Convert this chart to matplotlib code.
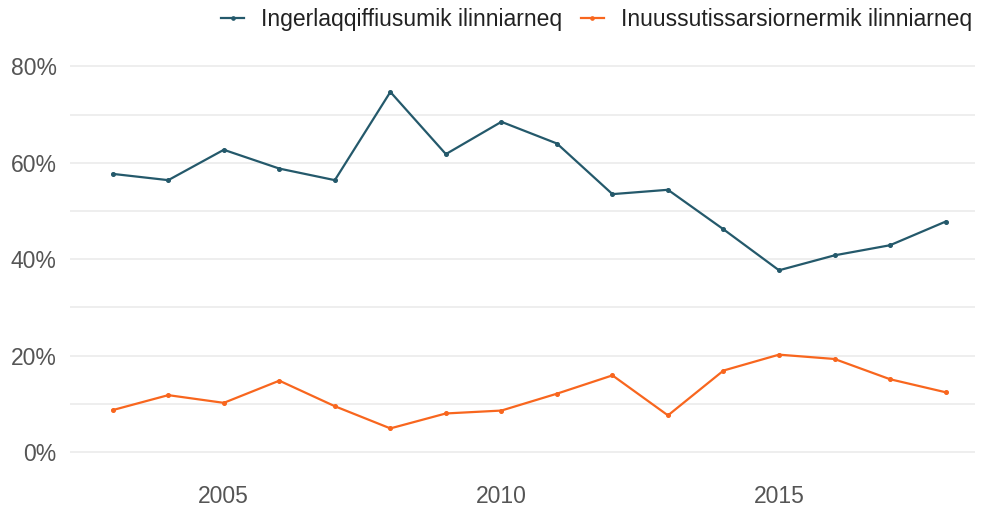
import matplotlib.pyplot as plt
from matplotlib.ticker import FuncFormatter, MultipleLocator

years = list(range(2003, 2019))
ingerlaqqiffiusumik = [57.7, 56.4, 62.7, 58.8, 56.4, 74.7, 61.8, 68.5, 64.0, 53.5,
                       54.4, 46.2, 37.7, 40.8, 42.9, 47.8]
inuussutissarsiornermik = [8.7, 11.8, 10.2, 14.8, 9.5, 4.9, 8.0, 8.6, 12.1, 15.9,
                           7.6, 16.9, 20.2, 19.3, 15.1, 12.4]
series_labels = ['Ingerlaqqiffiusumik ilinniarneq', 'Inuussutissarsiornermik ilinniarneq']
colors = ['#24596b', '#f8661e']

plt.rcParams['font.family'] = ['Liberation Sans', 'DejaVu Sans']

W, H = 992, 509
fig = plt.figure(figsize=(W / 100, H / 100), dpi=100)
ax = fig.add_axes([70 / W, 1 - 470 / H, (975 - 70) / W, 420 / H])

for vals, lab, col in zip([ingerlaqqiffiusumik, inuussutissarsiornermik], series_labels, colors):
    ax.plot(years, vals, color=col, lw=1.6, marker='o', markersize=2.6, label=lab)

ax.set_xlim(2002.23, 2018.53)
ax.set_ylim(-3.73, 83.4)
ax.set_xticks([2005, 2010, 2015])
ax.set_yticks([0, 20, 40, 60, 80])
ax.yaxis.set_minor_locator(MultipleLocator(10))
ax.yaxis.set_major_formatter(FuncFormatter(lambda v, p: f'{v:.0f}%'))
ax.grid(axis='y', which='both', color='#ebebeb', lw=1.2)
ax.set_axisbelow(True)
ax.tick_params(axis='both', which='both', length=0, labelsize=16.5, labelcolor='#555555')
ax.tick_params(axis='y', pad=9.5)
ax.tick_params(axis='x', pad=11)
for s in ax.spines.values():
    s.set_visible(False)

fig.legend(loc='upper right', bbox_to_anchor=(972 / W, 1 - 8 / H), ncol=2, frameon=False,
           fontsize=16.5, handlelength=1.0, handletextpad=0.75, columnspacing=0.8,
           borderpad=0, borderaxespad=0, labelcolor='#222222', markerscale=0.9)

fig.savefig('out.png', dpi=100)
